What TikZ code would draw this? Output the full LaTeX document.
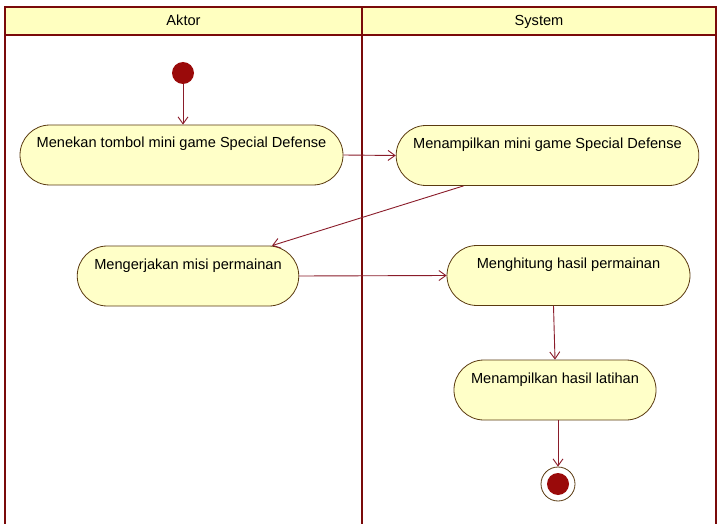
\documentclass[tikz,border=0pt]{standalone}
\usepackage{fontspec}
\setmainfont{Liberation Sans}
\usetikzlibrary{arrows.meta}
\usetikzlibrary{shapes.misc}
\usetikzlibrary{positioning}
\definecolor{lanered}{HTML}{7A0A0A}
\definecolor{headfill}{HTML}{FFFFC0}
\definecolor{actfill}{HTML}{FFFFC8}
\definecolor{actline}{HTML}{5A3A10}
\definecolor{flowred}{HTML}{8A1C2A}
\definecolor{dotred}{HTML}{9A0A0A}
\tikzset{lane/.style = {draw=lanered, line width=2.6pt},
         action/.style = {rounded rectangle, draw=actline, fill=actfill, line width=0.8pt,
                           inner xsep=2pt, inner ysep=4pt, text height=19pt, text depth=33pt,
                           font=\fontsize{14.6}{17}\selectfont},
         flow/.style = {draw=flowred, line width=0.9pt,
                        -{Straight Barb[length=7pt, width=10pt, line width=0.9pt]}}}

\begin{document}
\begin{tikzpicture}[x=1pt, y=-1pt]
    \useasboundingbox (0, 0) rectangle (718, 524);
    \fill [white] (0, 0) rectangle (718, 524);
    % swimlanes
    \fill [headfill] (5, 7) rectangle (716, 35);
    \draw [lane] (5, 524) -- (5, 7) -- (716, 7) -- (716, 524);
    \draw [lane] (5, 35) -- (716, 35);
    \draw [lane] (362, 7) -- (362, 524);
    \node [anchor=base, font=\fontsize{14.6}{17}\selectfont] (aktor) at (183.5, 26) {Aktor};
    \node [anchor=base, font=\fontsize{14.6}{17}\selectfont] (system) at (539, 26) {System};

    \node [circle, fill=dotred, minimum size=22pt, inner sep=0pt] (start) at (183, 73) {};
    \node [action, minimum width=327pt] (tekan) at (181.5, 155) {Menekan tombol mini game Special Defense};
    \node [action, minimum width=299pt] (tampil) at (547.5, 155.5) {Menampilkan mini game Special Defense};
    \node [action, minimum width=220pt] (kerja) at (188, 276) {Mengerjakan misi permainan};
    \node [action, minimum width=247pt] (hitung) at (568.5, 275.5) {Menghitung hasil permainan};
    \node [action, minimum width=200pt] (hasil) at (555, 390) {Menampilkan hasil latihan};
    \node [circle, draw=actline, fill=white, line width=0.8pt, minimum size=34pt, inner sep=0pt] (stop) at (558, 484) {};
    \node [circle, fill=dotred, minimum size=22pt, inner sep=0pt] (stopdot) at (stop) {};

    \draw [flow] (start) -- (start |- tekan.north);
    \draw [flow] (tekan.east) -- (tampil.west);
    \draw [flow] ([xshift=-84pt]tampil.south) -- ([xshift=84pt]kerja.north);
    \draw [flow] (kerja.east) -- (hitung.west);
    \draw [flow] ([xshift=-15pt]hitung.south) -- (hasil.north);
    \draw [flow] (hasil.south -| stop) -- (stop.north);
  \end{tikzpicture}
\end{document}
